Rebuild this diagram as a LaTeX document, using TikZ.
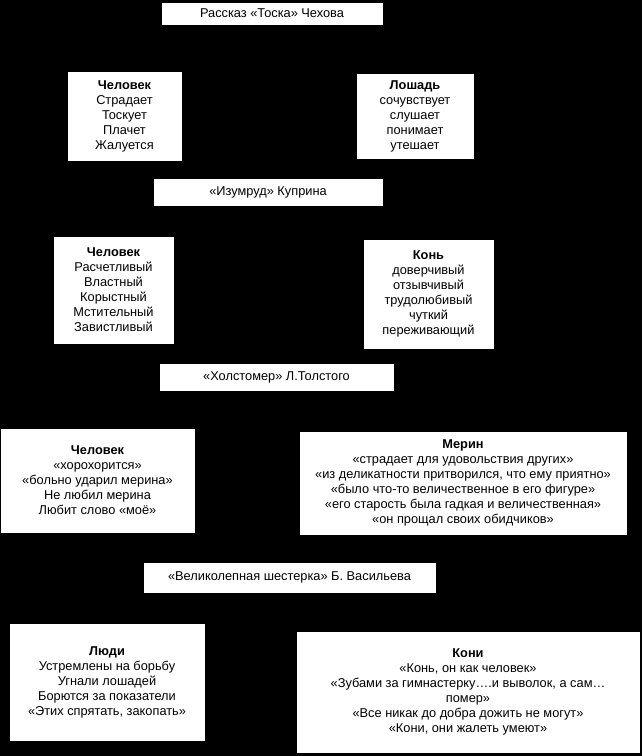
\documentclass[tikz,border=0pt]{standalone}
\usepackage{fontspec}
\setmainfont{Liberation Sans}
\begin{document}
\begin{tikzpicture}[x=1pt, y=-1pt,
    box/.style={draw=black, fill=white, align=center, inner sep=0pt,
                font=\fontsize{12.8}{15}\selectfont},
    title/.style={box}]
            \fill[black] (0,0) rectangle (642,756);
            \useasboundingbox (0,0) rectangle (642,756);
            % Chekhov
            \node[title, minimum width=222pt, minimum height=23pt] (tosca) at (272,13.5) {Рассказ «Тоска» Чехова};
            \node[box, minimum width=115pt, minimum height=90pt] (man1) at (124.5,116) {\textbf{Человек}\\Страдает\\Тоскует\\Плачет\\Жалуется};
            \node[box, minimum width=118pt, minimum height=86pt] (horse1) at (415,116) {\textbf{Лошадь}\\сочувствует\\слушает\\понимает\\утешает};
            % Kuprin
            \node[title, minimum width=230pt, minimum height=28pt] (izumrud) at (268,192) {«Изумруд» Куприна};
            \node[box, minimum width=121pt, minimum height=108pt] (man2) at (113.5,290) {\textbf{Человек}\\Расчетливый\\Властный\\Корыстный\\Мстительный\\Завистливый};
            \node[box, minimum width=131pt, minimum height=110pt] (horse2) at (428.5,294) {\textbf{Конь}\\доверчивый\\отзывчивый\\трудолюбивый\\чуткий\\переживающий};
            % Tolstoy
            \node[title, minimum width=235pt, minimum height=28pt] (kholst) at (276.5,377) {«Холстомер» Л.Толстого};
            \node[box, minimum width=195pt, minimum height=105pt] (man3) at (97.5,480.5) {\textbf{Человек}\\«хорохорится»\\«больно ударил мерина»\\Не любил мерина\\Любит слово «моё»};
            \node[box, minimum width=328pt, minimum height=104pt] (horse3) at (463,483) {\textbf{Мерин}\\«страдает для удовольствия других»\\«из деликатности притворился, что ему приятно»\\«было что-то величественное в его фигуре»\\«его старость была гадкая и величественная»\\«он прощал своих обидчиков»};
            % Vasiliev
            \node[title, minimum width=293pt, minimum height=31pt] (shest) at (289.5,577.5) {«Великолепная шестерка» Б. Васильева};
            \node[box, minimum width=196pt, minimum height=118pt] (people) at (107,682) {\textbf{Люди}\\Устремлены на борьбу\\Угнали лошадей\\Борются за показатели\\«Этих спрятать, закопать»};
            \node[box, minimum width=344pt, minimum height=122pt] (horses) at (468,692) {\textbf{Кони}\\«Конь, он как человек»\\«Зубами за гимнастерку….и выволок, а сам…\\помер»\\«Все никак до добра дожить не могут»\\«Кони, они жалеть умеют»};
\end{tikzpicture}
\end{document}
